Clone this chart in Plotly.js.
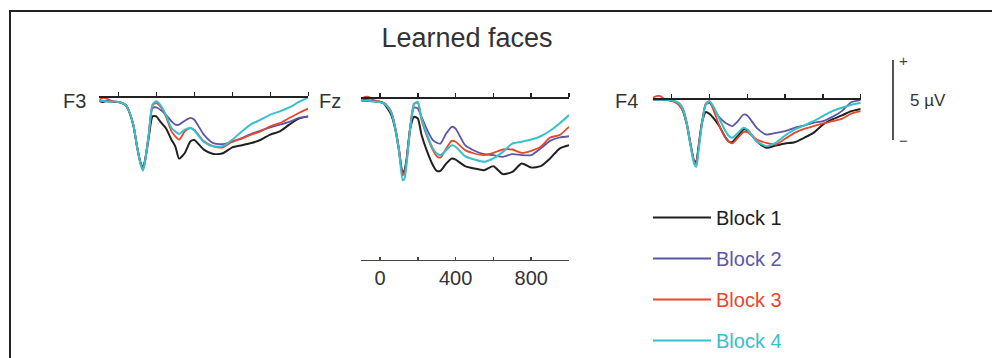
<!DOCTYPE html>
<html>
<head>
<meta charset="utf-8">
<script src="https://cdn.plot.ly/plotly-3.0.1.min.js"></script>
<style>
  html, body { margin: 0; padding: 0; background: #fff; }
  #chart { width: 992px; height: 358px; }
</style>
</head>
<body>
<div id="chart"></div>
<script>
// ---- Data (µV, time in ms) ----
const time = [-100,-80,-60,-40,-20,0,20,40,60,80,100,120,130,140,160,180,200,220,250,280,300,320,350,380,400,450,500,550,600,650,700,750,800,850,900,950,1000];

const blockNames = ['Block 1', 'Block 2', 'Block 3', 'Block 4'];
const panelNames = ['F3', 'Fz', 'F4'];
const timeTickVals = [0, 200, 400, 600, 800, 1000];
const timeTickText = ['0', '', '400', '', '800', ''];
const scaleBarValue = 5;        // µV
const scaleBarLabel = '5 µV';

// F3
const f3_b1 = [-0.27,-0.31,-0.23,-0.27,-0.31,-0.31,-0.38,-0.52,-1.0,-1.83,-3.19,-4.23,-4.33,-4.02,-2.56,-1.21,-1.21,-1.52,-1.94,-2.67,-3.08,-3.85,-3.5,-2.77,-2.69,-3.29,-3.56,-3.52,-3.15,-3.02,-2.88,-2.67,-2.35,-2.15,-1.73,-1.35,-1.21];
const f3_b2 = [-0.23,-0.27,-0.27,-0.31,-0.27,-0.31,-0.38,-0.48,-1.0,-1.77,-3.19,-4.23,-4.48,-4.02,-2.35,-0.69,-0.65,-0.79,-1.1,-1.52,-1.73,-1.73,-1.48,-1.31,-1.42,-2.35,-2.88,-2.94,-2.81,-2.56,-2.31,-2.1,-1.9,-1.73,-1.56,-1.31,-1.21];
const f3_b3 = [-0.17,-0.06,-0.1,-0.23,-0.31,-0.31,-0.38,-0.52,-1.0,-1.77,-3.19,-4.27,-4.54,-4.02,-2.35,-0.52,-0.38,-0.58,-1.21,-2.15,-2.46,-2.67,-2.15,-1.94,-2.04,-2.77,-3.08,-3.15,-2.77,-2.6,-2.35,-2.15,-1.83,-1.63,-1.31,-1.0,-0.73];
const f3_b4 = [-0.23,-0.23,-0.27,-0.31,-0.27,-0.31,-0.38,-0.52,-1.0,-1.77,-3.19,-4.33,-4.6,-4.13,-2.4,-0.48,-0.27,-0.48,-1.1,-1.94,-2.15,-2.31,-2.04,-1.94,-2.1,-2.81,-3.08,-3.08,-2.67,-2.15,-1.69,-1.42,-1.1,-0.9,-0.65,-0.31,-0.02];

// Fz
const fz_b1 = [-0.17,-0.21,-0.21,-0.21,-0.25,-0.27,-0.38,-0.69,-1.1,-1.94,-3.29,-4.75,-4.54,-3.92,-1.94,-1.21,-1.31,-2.35,-3.4,-4.23,-4.58,-4.58,-4.13,-3.81,-3.88,-4.29,-4.44,-4.54,-4.29,-4.79,-4.65,-4.13,-4.38,-4.29,-3.81,-3.19,-2.98];
const fz_b2 = [-0.17,-0.13,-0.17,-0.21,-0.25,-0.27,-0.38,-0.58,-0.96,-1.83,-3.19,-4.79,-4.65,-4.02,-1.83,-0.63,-0.69,-1.21,-2.04,-2.67,-2.83,-2.88,-2.25,-1.83,-1.94,-2.98,-3.33,-3.54,-3.6,-3.71,-3.54,-3.6,-3.6,-3.19,-2.71,-2.5,-2.42];
const fz_b3 = [-0.13,0.04,0.04,-0.13,-0.21,-0.27,-0.33,-0.54,-0.9,-1.83,-3.19,-4.85,-4.75,-4.02,-1.83,-0.38,-0.33,-1.42,-2.46,-3.29,-3.67,-3.75,-3.19,-2.71,-2.77,-3.29,-3.5,-3.6,-3.46,-3.25,-3.25,-3.46,-3.33,-3.08,-2.5,-2.35,-1.83];
const fz_b4 = [-0.17,-0.21,-0.21,-0.25,-0.27,-0.29,-0.38,-0.58,-0.96,-1.88,-3.29,-5.17,-5.06,-4.23,-1.94,-0.42,-0.27,-1.31,-2.35,-3.19,-3.5,-3.6,-3.29,-2.98,-3.08,-3.67,-3.88,-4.02,-3.81,-3.4,-2.88,-2.77,-2.63,-2.42,-2.08,-1.63,-1.1];

// F4
const f4_b1 = [-0.06,-0.06,-0.06,-0.06,-0.1,-0.13,-0.23,-0.4,-0.79,-1.63,-2.88,-3.92,-3.92,-3.19,-1.52,-0.85,-0.96,-1.21,-1.69,-2.35,-2.67,-2.73,-2.35,-1.94,-1.98,-2.67,-3.08,-2.94,-2.81,-2.73,-2.46,-2.15,-1.63,-1.31,-1.06,-0.79,-0.65];
const f4_b2 = [-0.02,-0.06,-0.06,-0.06,-0.06,-0.1,-0.19,-0.31,-0.65,-1.52,-2.88,-3.98,-4.02,-3.29,-1.52,-0.38,-0.27,-0.58,-1.15,-1.48,-1.63,-1.73,-1.42,-1.0,-1.06,-1.83,-2.25,-2.15,-2.04,-1.83,-1.69,-1.52,-1.42,-1.15,-0.79,-0.23,-0.1];
const f4_b3 = [0.04,0.15,0.15,-0.02,-0.1,-0.17,-0.23,-0.44,-0.79,-1.63,-2.94,-4.02,-4.06,-3.29,-1.52,-0.31,-0.17,-0.69,-1.63,-2.35,-2.67,-2.81,-2.46,-2.1,-2.1,-2.56,-2.77,-2.88,-2.52,-2.15,-1.9,-1.73,-1.56,-1.42,-1.27,-0.94,-0.79];
const f4_b4 = [-0.02,-0.06,-0.06,-0.06,-0.1,-0.1,-0.19,-0.31,-0.69,-1.56,-2.98,-4.13,-4.27,-3.5,-1.63,-0.38,-0.17,-0.48,-1.21,-1.94,-2.31,-2.46,-2.15,-1.83,-1.94,-2.67,-2.98,-2.77,-2.31,-1.94,-1.69,-1.42,-1.1,-0.79,-0.58,-0.4,-0.27];

const panelData = [
  [f3_b1, f3_b2, f3_b3, f3_b4],
  [fz_b1, fz_b2, fz_b3, fz_b4],
  [f4_b1, f4_b2, f4_b3, f4_b4]
];

// ---- Styling ----
const W = 992, H = 358;
const colors = ['#202020', '#5b57a8', '#e8472c', '#35c0cc'];
const widths = [2, 1.8, 1.8, 2];
const pxPerUV = 16;
// pixel geometry per panel: [left px at -100ms, right px at 1000ms, zero-line y px]
const panelGeom = [[99.3, 308.3, 97], [361.1, 569.0, 97.5], [652.8, 860.7, 98.5]];
const labelRightPx = [88, 343, 640];

const traces = [];
panelData.forEach((series, p) => {
  const ax = p === 0 ? '' : String(p + 1);
  series.forEach((vals, b) => {
    traces.push({
      x: time, y: vals,
      xaxis: 'x' + ax, yaxis: 'y' + ax,
      type: 'scatter', mode: 'lines',
      line: { color: colors[b], width: widths[b], shape: 'spline', smoothing: 0.6 },
      name: '<span style="color:' + colors[b] + '">' + blockNames[b] + '</span>',
      legendgroup: 'g' + b,
      showlegend: p === 0,
      hoverinfo: 'skip'
    });
  });
});
// carrier for the extra time axis under Fz
traces.push({ x: [], y: [], xaxis: 'x4', yaxis: 'y2', type: 'scatter', mode: 'lines', showlegend: false, hoverinfo: 'skip' });

const layout = {
  width: W, height: H, autosize: false,
  margin: { l: 0, r: 0, t: 0, b: 0, pad: 0, autoexpand: false },
  paper_bgcolor: '#ffffff', plot_bgcolor: 'rgba(0,0,0,0)',
  font: { family: 'Liberation Sans, Arial, sans-serif', color: '#333333' },
  title: {
    text: 'Learned faces',
    font: { size: 27, color: '#333333', family: 'Liberation Sans, Arial, sans-serif' },
    x: 467 / W, xref: 'paper', xanchor: 'center',
    y: 1 - 38 / H, yref: 'paper', yanchor: 'middle'
  },
  showlegend: true,
  legend: {
    x: 648 / W, xanchor: 'left', y: 1 - 198 / H, yanchor: 'top',
    font: { size: 20, family: 'Liberation Sans, Arial, sans-serif' },
    traceorder: 'grouped', tracegroupgap: 12,
    bgcolor: 'rgba(0,0,0,0)', borderwidth: 0, itemwidth: 58
  },
  annotations: [],
  shapes: []
};

panelGeom.forEach((g, p) => {
  const ax = p === 0 ? '' : String(p + 1);
  const zero = g[2];
  layout['xaxis' + ax] = {
    domain: [g[0] / W, g[1] / W],
    range: [time[0], time[time.length - 1]],
    anchor: 'free', position: 1 - zero / H, side: 'top',
    showline: true, linecolor: '#222222', linewidth: 2,
    ticks: 'outside', ticklen: 4, tickwidth: 1.5, tickcolor: '#222222',
    tickvals: timeTickVals, showticklabels: false,
    showgrid: false, zeroline: false, fixedrange: true
  };
  layout['yaxis' + ax] = {
    domain: [0, 1], anchor: 'x' + ax,
    range: [-(H - zero) / pxPerUV, zero / pxPerUV],
    visible: false, showgrid: false, zeroline: false, fixedrange: true
  };
  layout.annotations.push({
    text: panelNames[p], xref: 'paper', yref: 'paper',
    x: labelRightPx[p] / W, y: 1 - 101 / H, xanchor: 'right', yanchor: 'middle',
    showarrow: false, font: { size: 20, color: '#333333' }
  });
});

// time axis below Fz
layout.xaxis4 = {
  overlaying: 'x2', domain: layout.xaxis2.domain,
  range: [time[0], time[time.length - 1]],
  anchor: 'free', position: 1 - 259.5 / H, side: 'bottom',
  showline: true, linecolor: '#444444', linewidth: 1.5,
  ticks: 'inside', ticklen: 3, tickwidth: 1.5, tickcolor: '#444444',
  tickvals: timeTickVals, ticktext: timeTickText,
  tickfont: { size: 20, color: '#333333' },
  showgrid: false, zeroline: false, fixedrange: true
};

// 5 µV scale bar, in the F4 panel's µV scale
const barX = 893 / W;
const barBottom = -2.6;
layout.shapes.push({
  type: 'line', xref: 'paper', yref: 'y3',
  x0: barX, x1: barX, y0: barBottom, y1: barBottom + scaleBarValue,
  line: { color: '#555555', width: 2 }
});
layout.annotations.push(
  { text: '+', xref: 'paper', yref: 'y3', x: 897 / W, y: barBottom + scaleBarValue, xanchor: 'left', yanchor: 'middle', showarrow: false, font: { size: 15, color: '#444' } },
  { text: '−', xref: 'paper', yref: 'y3', x: 897 / W, y: barBottom, xanchor: 'left', yanchor: 'middle', showarrow: false, font: { size: 15, color: '#444' } },
  { text: scaleBarLabel, xref: 'paper', yref: 'paper', x: 908 / W, y: 1 - 100 / H, xanchor: 'left', yanchor: 'middle', showarrow: false, font: { size: 17, color: '#333' } }
);

// frame
layout.shapes.push({
  type: 'rect', xref: 'paper', yref: 'paper',
  x0: 10 / W, x1: 1.02, y0: -0.05, y1: 1 - 11 / H,
  line: { color: '#222222', width: 2 }
});

Plotly.newPlot('chart', traces, layout, { staticPlot: true, displayModeBar: false });
</script>
</body>
</html>
